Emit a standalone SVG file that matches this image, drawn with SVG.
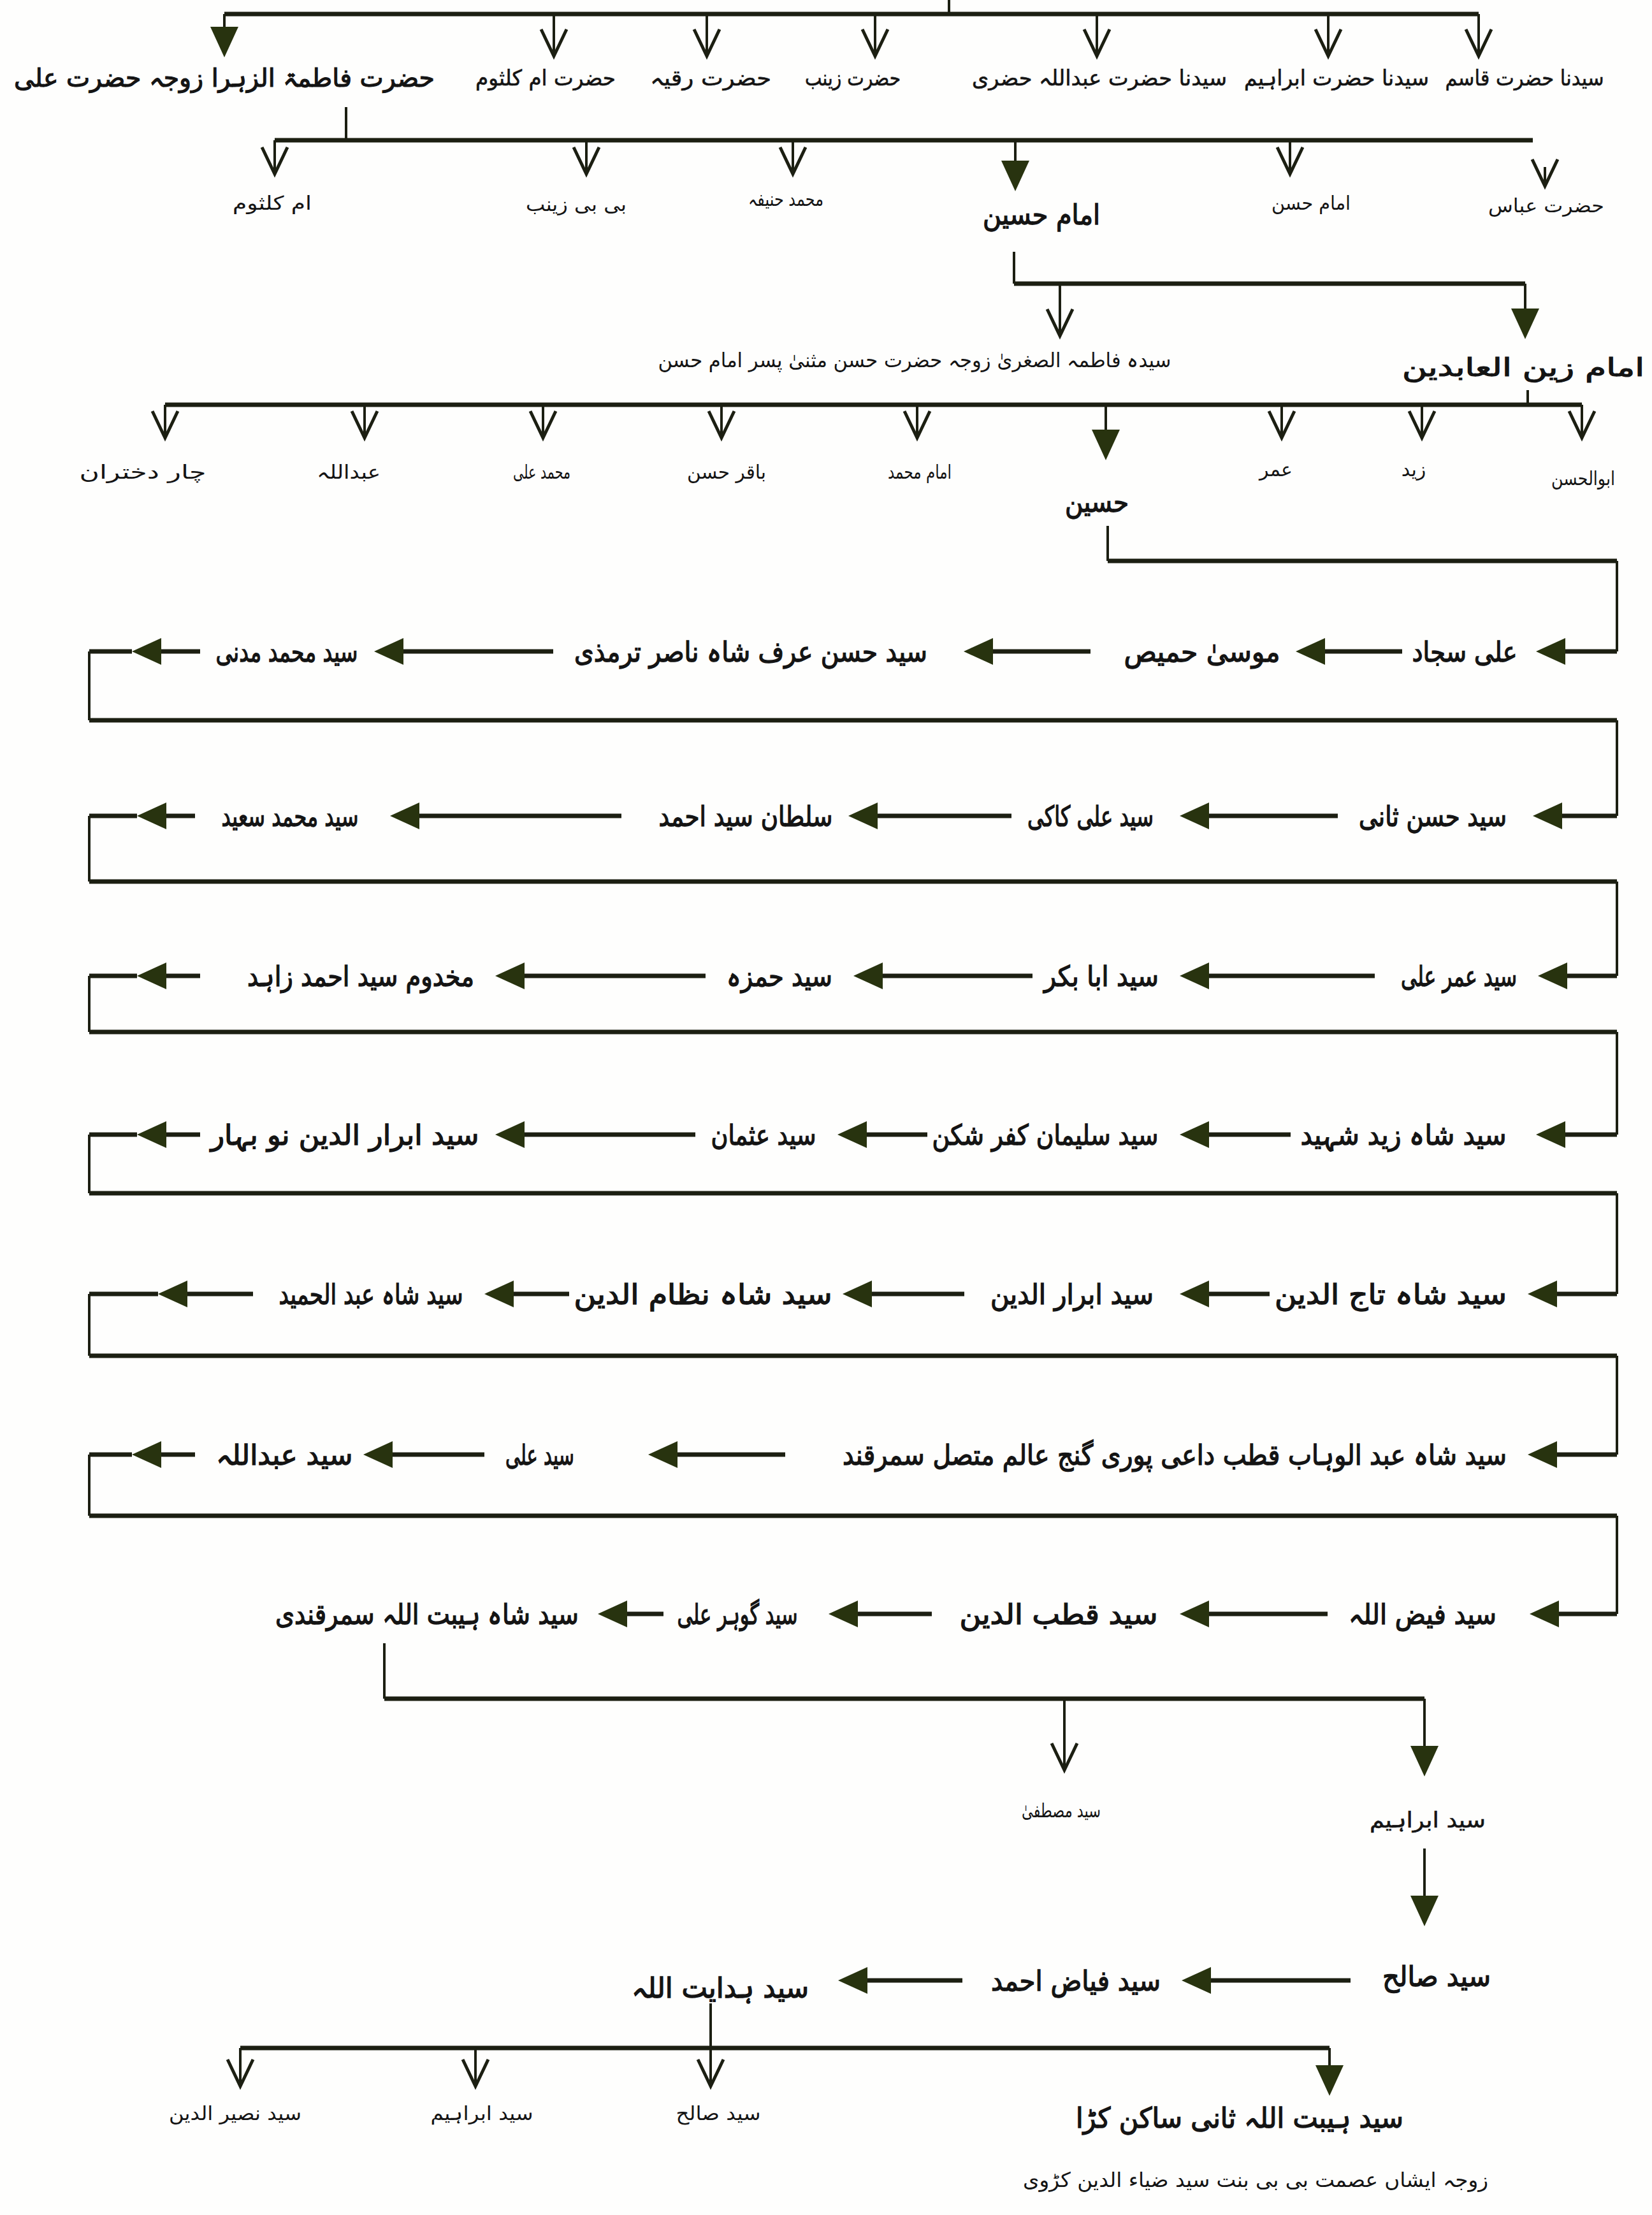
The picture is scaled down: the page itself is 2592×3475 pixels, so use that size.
<svg xmlns="http://www.w3.org/2000/svg" xmlns:xlink="http://www.w3.org/1999/xlink" width="2592" height="3475" viewBox="0 0 2592 3475">
<style>
.ln{stroke:#1c1f12;stroke-width:7;fill:none;stroke-linecap:butt}
.th{stroke:#1c1f12;stroke-width:4;fill:none}
.ah{fill:#28330f}
.oa{stroke:#1c1f12;stroke-width:5;fill:none;stroke-linejoin:miter}
text{font-family:"DejaVu Sans","Noto Sans",sans-serif;fill:#141414;text-anchor:middle;dominant-baseline:central;direction:rtl}
.b{font-size:44px;stroke:#141414;stroke-width:1.4px}
.f{font-size:40px;stroke:#141414;stroke-width:1.2px}
.m{font-size:34px;stroke:#141414;stroke-width:0.6px}
.s{font-size:30px}
.t{font-size:32px}
</style>
<defs>
<path id="la" d="M0,0 L46,-21 L46,21 Z" class="ah"/>
<path id="fd" d="M0,0 L-22,-48 L22,-48 Z" class="ah"/>
<path id="od" d="M-20,-42 L0,0 L20,-42" class="oa"/>
</defs>
<rect width="2592" height="3475" fill="#fefefd"/>
<g id="connectors">
<path class="th" d="M1489,0 V22"/>
<path class="ln" d="M352,22 H2320"/>
<path class="th" d="M352,22 V45 M869,22 V88 M1109,22 V88 M1373,22 V88 M1721,22 V88 M2084,22 V88 M2320,22 V88"/>
<use href="#fd" x="352" y="90"/>
<use href="#od" x="869" y="88"/><use href="#od" x="1109" y="88"/><use href="#od" x="1373" y="88"/><use href="#od" x="1721" y="88"/><use href="#od" x="2084" y="88"/><use href="#od" x="2320" y="88"/>
<path class="th" d="M543,168 V220"/>
<path class="ln" d="M431,220 H2405"/>
<path class="th" d="M431,220 V273 M920,220 V273 M1244,220 V273 M1593,220 V255 M2024,220 V273 M2424,262 V292"/>
<use href="#od" x="431" y="273"/><use href="#od" x="920" y="273"/><use href="#od" x="1244" y="273"/><use href="#fd" x="1593" y="300"/><use href="#od" x="2024" y="273"/><use href="#od" x="2424" y="292"/>
<path class="th" d="M1591,395 V445"/>
<path class="ln" d="M1591,445 H2393"/>
<path class="th" d="M1663,445 V527 M2393,445 V485"/>
<use href="#od" x="1663" y="527"/><use href="#fd" x="2393" y="532"/>
<path class="th" d="M2397,612 V635"/>
<path class="ln" d="M259,635 H2482"/>
<path class="th" d="M259,635 V687 M572,635 V687 M852,635 V687 M1132,635 V687 M1439,635 V687 M1735,635 V675 M2011,635 V687 M2231,635 V687 M2482,635 V687"/>
<use href="#od" x="259" y="687"/><use href="#od" x="572" y="687"/><use href="#od" x="852" y="687"/><use href="#od" x="1132" y="687"/><use href="#od" x="1439" y="687"/><use href="#fd" x="1735" y="722"/><use href="#od" x="2011" y="687"/><use href="#od" x="2231" y="687"/><use href="#od" x="2482" y="687"/>
<path class="th" d="M1738,825 V880"/>
<path class="ln" d="M1738,880 H2537"/>
<path class="th" d="M2537,880 V1022 M140,1022 V1130 M2537,1130 V1280 M140,1280 V1383 M2537,1383 V1531 M140,1531 V1619 M2537,1619 V1780 M140,1780 V1872 M2537,1872 V2030 M140,2030 V2127 M2537,2127 V2282 M140,2282 V2378 M2537,2378 V2532"/>
<path class="ln" d="M140,1130 H2537 M140,1383 H2537 M140,1619 H2537 M140,1872 H2537 M140,2127 H2537 M140,2378 H2537"/>
<path class="ln" d="M2537,1022 H2456 M2079,1022 H2200 M1558,1022 H1711 M633,1022 H868 M253,1022 H314 M140,1022 H207"/>
<use href="#la" x="2410" y="1022"/><use href="#la" x="2033" y="1022"/><use href="#la" x="1512" y="1022"/><use href="#la" x="587" y="1022"/><use href="#la" x="207" y="1022"/>
<path class="ln" d="M2537,1280 H2451 M1897,1280 H2099 M1377,1280 H1587 M658,1280 H975 M261,1280 H306 M140,1280 H215"/>
<use href="#la" x="2405" y="1280"/><use href="#la" x="1851" y="1280"/><use href="#la" x="1331" y="1280"/><use href="#la" x="612" y="1280"/><use href="#la" x="215" y="1280"/>
<path class="ln" d="M2537,1531 H2459 M1897,1531 H2157 M1385,1531 H1620 M823,1531 H1107 M261,1531 H314 M140,1531 H215"/>
<use href="#la" x="2413" y="1531"/><use href="#la" x="1851" y="1531"/><use href="#la" x="1339" y="1531"/><use href="#la" x="777" y="1531"/><use href="#la" x="215" y="1531"/>
<path class="ln" d="M2537,1780 H2456 M1897,1780 H2025 M1360,1780 H1455 M823,1780 H1091 M261,1780 H314 M140,1780 H215"/>
<use href="#la" x="2410" y="1780"/><use href="#la" x="1851" y="1780"/><use href="#la" x="1314" y="1780"/><use href="#la" x="777" y="1780"/><use href="#la" x="215" y="1780"/>
<path class="ln" d="M2537,2030 H2443 M1897,2030 H1992 M1368,2030 H1513 M806,2030 H893 M294,2030 H397 M140,2030 H248"/>
<use href="#la" x="2397" y="2030"/><use href="#la" x="1851" y="2030"/><use href="#la" x="1322" y="2030"/><use href="#la" x="760" y="2030"/><use href="#la" x="248" y="2030"/>
<path class="ln" d="M2537,2282 H2443 M1063,2282 H1232 M616,2282 H760 M253,2282 H306 M140,2282 H207"/>
<use href="#la" x="2397" y="2282"/><use href="#la" x="1017" y="2282"/><use href="#la" x="570" y="2282"/><use href="#la" x="207" y="2282"/>
<path class="ln" d="M2537,2532 H2446 M1897,2532 H2083 M1346,2532 H1462 M984,2532 H1041"/>
<use href="#la" x="2400" y="2532"/><use href="#la" x="1851" y="2532"/><use href="#la" x="1300" y="2532"/><use href="#la" x="938" y="2532"/>
<path class="th" d="M603,2578 V2665"/>
<path class="ln" d="M603,2665 H2235"/>
<path class="th" d="M1670,2665 V2777 M2235,2665 V2740"/>
<use href="#od" x="1670" y="2777"/><use href="#fd" x="2235" y="2787"/>
<path class="th" d="M2235,2900 V2975"/>
<use href="#fd" x="2235" y="3022"/>
<path class="ln" d="M1900,3107 H2119 M1361,3107 H1510"/>
<use href="#la" x="1854" y="3107"/><use href="#la" x="1315" y="3107"/>
<path class="th" d="M1115,3143 V3273"/>
<path class="ln" d="M377,3213 H2086"/>
<path class="th" d="M377,3213 V3273 M746,3213 V3273 M2086,3213 V3240"/>
<use href="#od" x="377" y="3273"/><use href="#od" x="746" y="3273"/><use href="#od" x="1115" y="3273"/><use href="#fd" x="2086" y="3288"/>
</g>
<g id="n-top">
<text class="f" x="352" y="122" textLength="660" lengthAdjust="spacingAndGlyphs">حضرت فاطمۃ الزہرا زوجہ حضرت علی</text>
<text class="m" x="856" y="122" textLength="220" lengthAdjust="spacingAndGlyphs">حضرت ام کلثوم</text>
<text class="m" x="1115" y="122" textLength="190" lengthAdjust="spacingAndGlyphs">حضرت رقیہ</text>
<text class="m" x="1338" y="122" textLength="150" lengthAdjust="spacingAndGlyphs">حضرت زینب</text>
<text class="m" x="1725" y="122" textLength="400" lengthAdjust="spacingAndGlyphs">سیدنا حضرت عبداللہ حضری</text>
<text class="m" x="2097" y="122" textLength="290" lengthAdjust="spacingAndGlyphs">سیدنا حضرت ابراہیم</text>
<text class="m" x="2392" y="122" textLength="249" lengthAdjust="spacingAndGlyphs">سیدنا حضرت قاسم</text>
</g>
<g id="n-l2">
<text class="s" x="427" y="318" textLength="124" lengthAdjust="spacingAndGlyphs">ام کلثوم</text>
<text class="s" x="904" y="320" textLength="158" lengthAdjust="spacingAndGlyphs">بی بی زینب</text>
<text class="s" x="1233" y="312" textLength="118" lengthAdjust="spacingAndGlyphs">محمد حنیفہ</text>
<text class="b" x="1634" y="336" textLength="184" lengthAdjust="spacingAndGlyphs">امام حسین</text>
<text class="s" x="2057" y="318" textLength="124" lengthAdjust="spacingAndGlyphs">امام حسن</text>
<text class="s" x="2426" y="322" textLength="182" lengthAdjust="spacingAndGlyphs">حضرت عباس</text>
</g>
<g id="n-l3">
<text class="t" x="1435" y="565" textLength="805" lengthAdjust="spacingAndGlyphs">سیدہ فاطمہ الصغریٰ زوجہ حضرت حسن مثنیٰ پسر امام حسن</text>
<text class="f" x="2390" y="576" textLength="380" lengthAdjust="spacingAndGlyphs">امام زین العابدین</text>
</g>
<g id="n-l4">
<text class="s" x="224" y="740" textLength="199" lengthAdjust="spacingAndGlyphs">چار دختران</text>
<text class="s" x="547" y="740" textLength="100" lengthAdjust="spacingAndGlyphs">عبداللہ</text>
<text class="s" x="850" y="740" textLength="90" lengthAdjust="spacingAndGlyphs">محمد علی</text>
<text class="s" x="1140" y="740" textLength="124" lengthAdjust="spacingAndGlyphs">باقر حسن</text>
<text class="s" x="1443" y="740" textLength="100" lengthAdjust="spacingAndGlyphs">امام محمد</text>
<text class="b" x="1721" y="787" textLength="100" lengthAdjust="spacingAndGlyphs">حسین</text>
<text class="s" x="2002" y="736">عمر</text>
<text class="s" x="2218" y="736">زید</text>
<text class="s" x="2484" y="750" textLength="100" lengthAdjust="spacingAndGlyphs">ابوالحسن</text>
</g>
<g id="n-row1">
<text class="b" x="2298" y="1022" textLength="165" lengthAdjust="spacingAndGlyphs">علی سجاد</text>
<text class="b" x="1886" y="1022" textLength="245" lengthAdjust="spacingAndGlyphs">موسیٰ حمیص</text>
<text class="b" x="1178" y="1022" textLength="554" lengthAdjust="spacingAndGlyphs">سید حسن عرف شاہ ناصر ترمذی</text>
<text class="b" x="450" y="1022" textLength="223" lengthAdjust="spacingAndGlyphs">سید محمد مدنی</text>
</g>
<g id="n-row2">
<text class="b" x="2248" y="1280" textLength="232" lengthAdjust="spacingAndGlyphs">سید حسن ثانی</text>
<text class="b" x="1711" y="1280" textLength="198" lengthAdjust="spacingAndGlyphs">سید علی کاکی</text>
<text class="b" x="1170" y="1280" textLength="273" lengthAdjust="spacingAndGlyphs">سلطان سید احمد</text>
<text class="b" x="455" y="1280" textLength="215" lengthAdjust="spacingAndGlyphs">سید محمد سعید</text>
</g>
<g id="n-row3">
<text class="b" x="2289" y="1531" textLength="182" lengthAdjust="spacingAndGlyphs">سید عمر علی</text>
<text class="b" x="1728" y="1531" textLength="180" lengthAdjust="spacingAndGlyphs">سید ابا بکر</text>
<text class="b" x="1223" y="1531" textLength="166" lengthAdjust="spacingAndGlyphs">سید حمزہ</text>
<text class="b" x="566" y="1531" textLength="356" lengthAdjust="spacingAndGlyphs">مخدوم سید احمد زاہد</text>
</g>
<g id="n-row4">
<text class="b" x="2202" y="1780" textLength="323" lengthAdjust="spacingAndGlyphs">سید شاہ زید شہید</text>
<text class="b" x="1640" y="1780" textLength="355" lengthAdjust="spacingAndGlyphs">سید سلیمان کفر شکن</text>
<text class="b" x="1198" y="1780" textLength="165" lengthAdjust="spacingAndGlyphs">سید عثمان</text>
<text class="b" x="541" y="1780" textLength="421" lengthAdjust="spacingAndGlyphs">سید ابرار الدین نو بہار</text>
</g>
<g id="n-row5">
<text class="b" x="2182" y="2030" textLength="364" lengthAdjust="spacingAndGlyphs">سید شاہ تاج الدین</text>
<text class="b" x="1682" y="2030" textLength="256" lengthAdjust="spacingAndGlyphs">سید ابرار الدین</text>
<text class="b" x="1103" y="2030" textLength="405" lengthAdjust="spacingAndGlyphs">سید شاہ نظام الدین</text>
<text class="b" x="582" y="2030" textLength="289" lengthAdjust="spacingAndGlyphs">سید شاہ عبد الحمید</text>
</g>
<g id="n-row6">
<text class="b" x="1843" y="2282" textLength="1042" lengthAdjust="spacingAndGlyphs">سید شاہ عبد الوہاب قطب داعی پوری گنج عالم متصل سمرقند</text>
<text class="b" x="847" y="2282" textLength="108" lengthAdjust="spacingAndGlyphs">سید علی</text>
<text class="b" x="446" y="2282" textLength="215" lengthAdjust="spacingAndGlyphs">سید عبداللہ</text>
</g>
<g id="n-row7">
<text class="b" x="2232" y="2532" textLength="232" lengthAdjust="spacingAndGlyphs">سید فیض اللہ</text>
<text class="b" x="1661" y="2532" textLength="311" lengthAdjust="spacingAndGlyphs">سید قطب الدین</text>
<text class="b" x="1157" y="2532" textLength="189" lengthAdjust="spacingAndGlyphs">سید گوہر علی</text>
<text class="b" x="670" y="2532" textLength="476" lengthAdjust="spacingAndGlyphs">سید شاہ ہیبت اللہ سمرقندی</text>
</g>
<g id="n-bottom">
<text class="s" x="1665" y="2840" textLength="124" lengthAdjust="spacingAndGlyphs">سید مصطفیٰ</text>
<text class="m" x="2240" y="2855" textLength="182" lengthAdjust="spacingAndGlyphs">سید ابراہیم</text>
<text class="b" x="2254" y="3100" textLength="170" lengthAdjust="spacingAndGlyphs">سید صالح</text>
<text class="b" x="1688" y="3107" textLength="266" lengthAdjust="spacingAndGlyphs">سید فیاض احمد</text>
<text class="b" x="1130" y="3118" textLength="278" lengthAdjust="spacingAndGlyphs">سید ہدایت اللہ</text>
<text class="s" x="369" y="3315" textLength="208" lengthAdjust="spacingAndGlyphs">سید نصیر الدین</text>
<text class="s" x="756" y="3315" textLength="161" lengthAdjust="spacingAndGlyphs">سید ابراہیم</text>
<text class="s" x="1127" y="3315" textLength="133" lengthAdjust="spacingAndGlyphs">سید صالح</text>
<text class="b" x="1945" y="3322" textLength="514" lengthAdjust="spacingAndGlyphs">سید ہیبت اللہ ثانی ساکن کڑا</text>
<text class="t" x="1970" y="3420" textLength="730" lengthAdjust="spacingAndGlyphs">زوجہ ایشاں عصمت بی بی بنت سید ضیاء الدین کڑوی</text>
</g>
</svg>
